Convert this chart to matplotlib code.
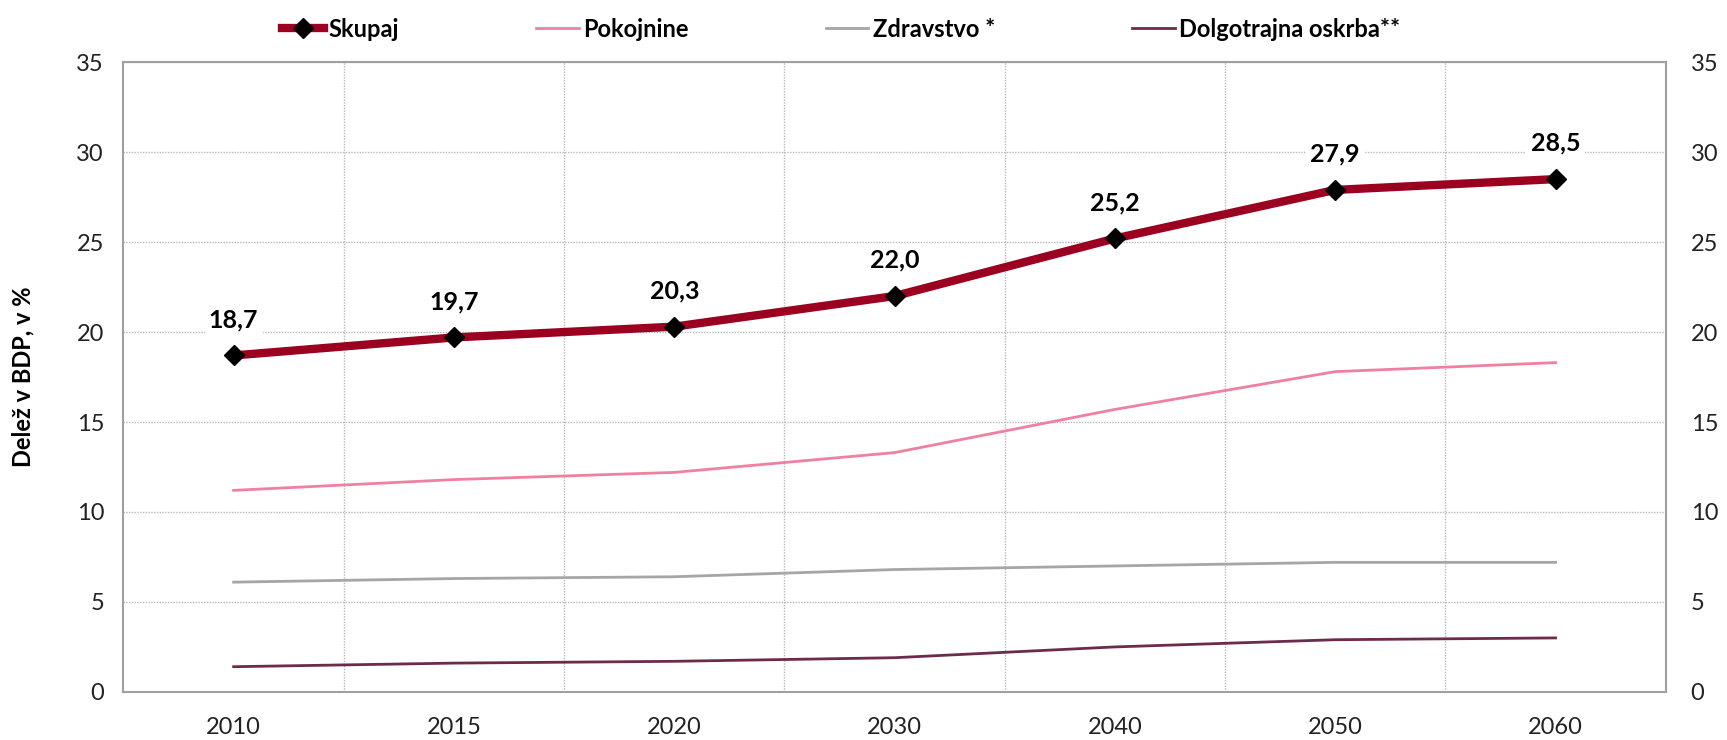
import matplotlib.pyplot as plt
from matplotlib.ticker import MultipleLocator, FixedLocator

plt.rcParams['font.family'] = ['Lato', 'DejaVu Sans']

years = ['2010', '2015', '2020', '2030', '2040', '2050', '2060']
skupaj = [18.7, 19.7, 20.3, 22.0, 25.2, 27.9, 28.5]
pokojnine = [11.2, 11.8, 12.2, 13.3, 15.7, 17.8, 18.3]
zdravstvo = [6.1, 6.3, 6.4, 6.8, 7.0, 7.2, 7.2]
oskrba = [1.4, 1.6, 1.7, 1.9, 2.5, 2.9, 3.0]
labels = ['Skupaj', 'Pokojnine', 'Zdravstvo *', 'Dolgotrajna oskrba**']

x = list(range(len(years)))

fig, ax = plt.subplots(figsize=(17.27, 7.40), dpi=100)
fig.subplots_adjust(left=0.0715, right=0.9645, top=0.916, bottom=0.065)

ax.plot(x, skupaj, color='#9b0020', lw=6, marker='D', ms=10,
        mfc='black', mec='black', label=labels[0], zorder=5)
ax.plot(x, pokojnine, color='#f080a0', lw=2, label=labels[1], zorder=4)
ax.plot(x, zdravstvo, color='#a6a6a6', lw=2, label=labels[2], zorder=4)
ax.plot(x, oskrba, color='#6e2a4a', lw=2, label=labels[3], zorder=4)

for xi, v in zip(x, skupaj):
    ax.text(xi, v + 2.0, f'{v:.1f}'.replace('.', ','), ha='center', va='center',
            fontsize=18, fontweight='bold', zorder=6,
            bbox=dict(facecolor='white', edgecolor='none', pad=3))

ax.set_xlim(-0.5, len(years) - 0.5)
ax.set_ylim(0, 35)
ax.yaxis.set_major_locator(MultipleLocator(5))
ax.set_xticks(x)
ax.set_xticklabels(years)
ax.xaxis.set_minor_locator(FixedLocator([i + 0.5 for i in x[:-1]]))
ax.grid(axis='y', which='major', color='#b8b8b8', ls=(0, (1, 1)), lw=1)
ax.grid(axis='x', which='minor', color='#b8b8b8', ls=(0, (1, 1)), lw=1)
ax.tick_params(which='both', length=0, labelsize=17, pad=18, colors='#222222')
ax.tick_params(axis='y', pad=14)
for s in ax.spines.values():
    s.set_color('#a0a0a0')
    s.set_linewidth(1.5)

ax2 = ax.twinx()
ax2.set_ylim(0, 35)
ax2.yaxis.set_major_locator(MultipleLocator(5))
ax2.tick_params(length=0, labelsize=17, pad=18, colors='#222222')
for s in ax2.spines.values():
    s.set_visible(False)

ax.set_ylabel('Delež v BDP, v %', fontsize=17, fontweight='bold', labelpad=30)

leg = fig.legend(loc='upper center', bbox_to_anchor=(0.487, 1.005), ncol=4,
                 frameon=False, handlelength=1.8, handletextpad=0.2,
                 columnspacing=5.8, prop={'weight': 'bold', 'size': 17})

fig.savefig('out.png', dpi=100)
